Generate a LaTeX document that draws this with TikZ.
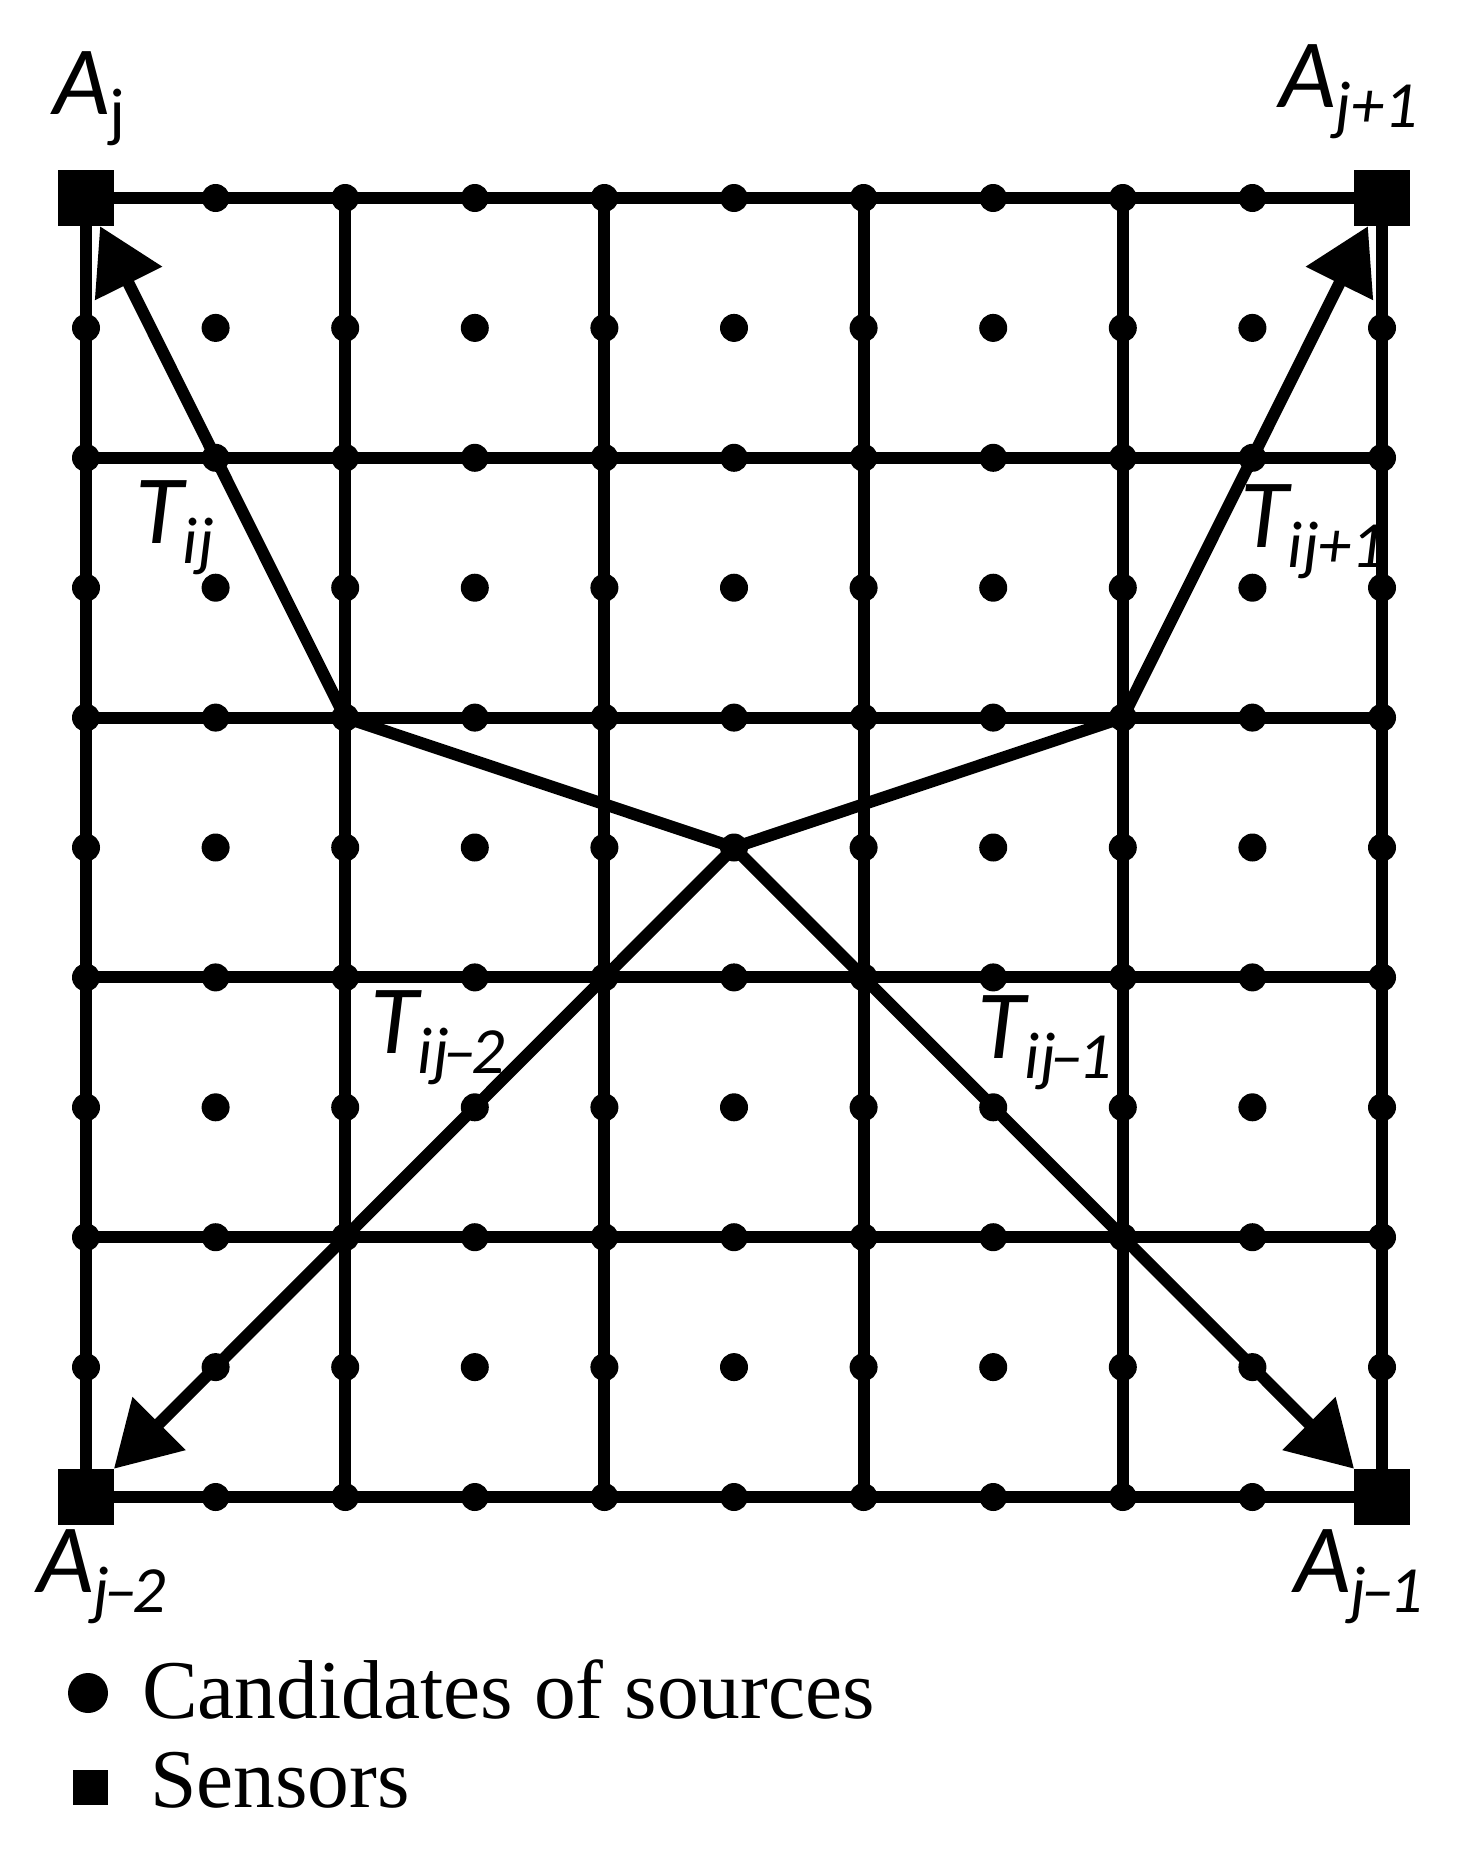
\documentclass[tikz,border=0pt]{standalone}
\usepackage{fontspec}
\setmainfont{Liberation Serif}
\newfontfamily\labfont{Carlito}
\usetikzlibrary{arrows.meta}
\newcommand{\biglab}{\labfont\fontsize{98}{98}\selectfont\itshape}
\newcommand{\sublab}[1]{\raisebox{-20pt}{\fontsize{66}{66}\selectfont #1}}
\newcommand{\tdash}{\kern-5pt\textendash\kern-5pt}
\begin{document}
\begin{tikzpicture}[x=1pt,y=-1pt,
  gridline/.style={line width=12pt},
  cand/.style={circle,fill=black,inner sep=0pt,minimum size=28pt},
  sensor/.style={rectangle,fill=black,inner sep=0pt,minimum size=56pt},
  tarrow/.style={line width=12pt,-{Triangle[length=64pt,width=72pt]}},
  lab/.style={anchor=base west,inner sep=0pt},
  legtext/.style={anchor=base west,inner sep=0pt,font=\fontsize{83.5}{83.5}\selectfont}]
\useasboundingbox (0,0) rectangle (1459,1857);
% grid
\foreach \i in {0,...,5} {
  \draw[gridline] ({86+259.2*\i},198) -- ({86+259.2*\i},1497);
  \draw[gridline] (86,{198+259.8*\i}) -- (1382,{198+259.8*\i});
}
% candidate points
\foreach \i in {0,...,10} {
  \foreach \k in {0,...,10} {
    \node[cand] at ({86+129.6*\i},{198+129.9*\k}) {};
  }
}
% sensors
\node[sensor] (Aj) at (86,198) {};
\node[sensor] (Aj1) at (1382,198) {};
\node[sensor] (Ajm2) at (86,1497) {};
\node[sensor] (Ajm1) at (1382,1497) {};
% path points
\coordinate (c) at (734,847.5);
\coordinate (p12) at (345.2,717.6);
\coordinate (p42) at (1122.8,717.6);
% arrows
\draw[tarrow] (c) -- (p12) -- (Aj);
\draw[tarrow] (c) -- (p42) -- (Aj1);
\draw[tarrow] (c) -- (Ajm2);
\draw[tarrow] (c) -- (Ajm1);
% sensor labels
\node[lab] (lAj) at (53,115) {\biglab A\sublab{\upshape j}};
\node[lab] (lAj1) at (1279,108) {\biglab A\sublab{j+1}};
\node[lab] (lAjm2) at (37,1592) {\biglab A\sublab{j\tdash 2}};
\node[lab] (lAjm1) at (1294,1592) {\biglab A\sublab{j\tdash 1}};
% path labels
\node[lab] (lT) at (135,543) {\biglab T\sublab{ij}};
\node[lab] (lT1) at (1240,547) {\biglab T\sublab{ij+1}};
\node[lab] (lTm2) at (370,1053) {\biglab T\sublab{ij\tdash 2}};
\node[lab] (lTm1) at (977,1058) {\biglab T\sublab{ij\tdash 1}};
% legend
\node[cand,minimum size=40pt] (legc) at (88,1693) {};
\node[legtext] (legct) at (142,1718) {Candidates of sources};
\node[rectangle,fill=black,inner sep=0pt,minimum size=35pt] (legs) at (90.5,1787.5) {};
\node[legtext] (legst) at (150,1807) {Sensors};
\end{tikzpicture}
\end{document}
